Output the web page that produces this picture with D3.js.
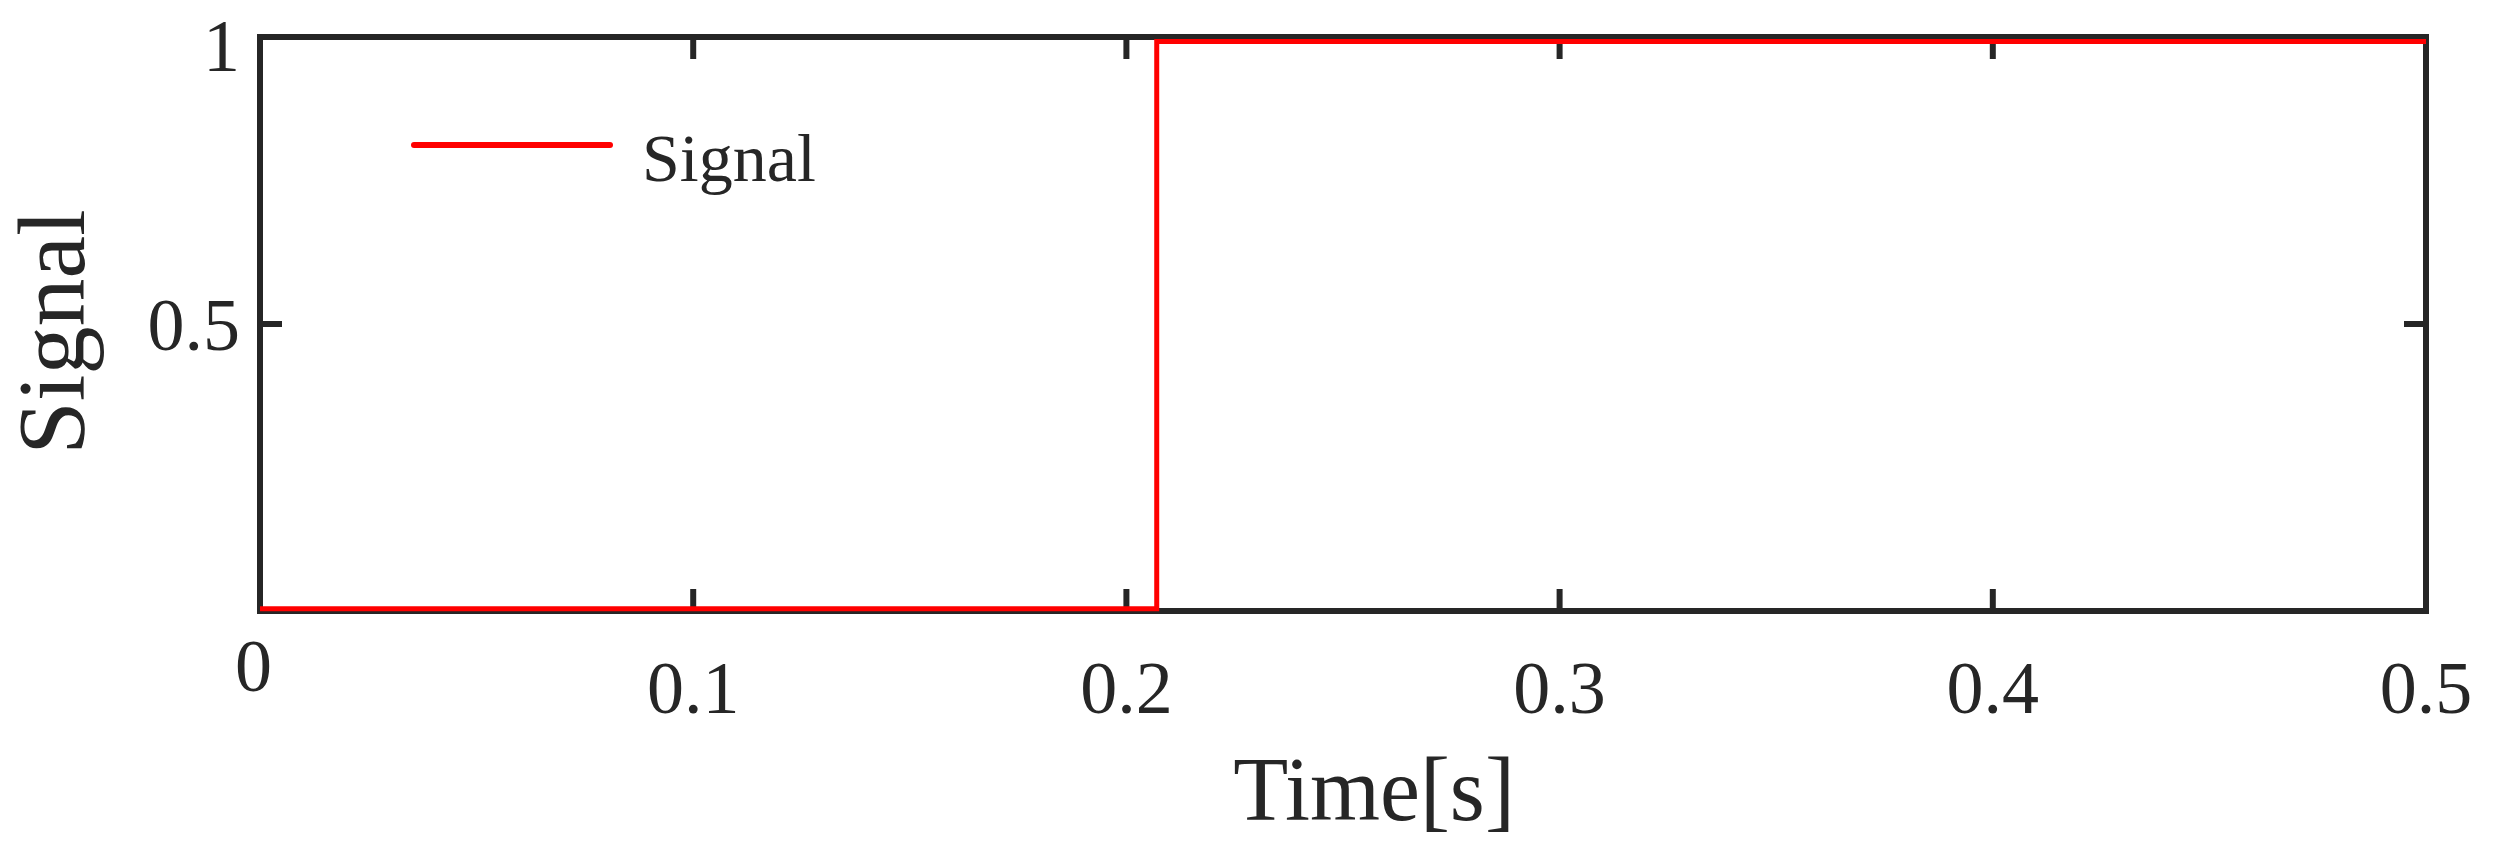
<!DOCTYPE html>
<html>
<head>
<meta charset="utf-8">
<script src="https://cdn.jsdelivr.net/npm/d3@7"></script>
<style>
  body { margin: 0; background: #fff; }
  text { font-family: "Liberation Serif", "Times New Roman", serif; fill: #262626; }
</style>
</head>
<body>
<svg id="chart"></svg>
<script>
// data
const times   = [0, 0.207, 0.207, 0.5];
const signal  = [0, 0, 1, 1];
const xTicks  = [0, 0.1, 0.2, 0.3, 0.4, 0.5];
const yTicks  = [0.5, 1];

const W = 2500, H = 859;
const margin = {top: 37, right: 74, bottom: 248, left: 260};
const width  = W - margin.left - margin.right,
      height = H - margin.top - margin.bottom;
const ink = "#262626";

const svg = d3.select("#chart").attr("width", W).attr("height", H);
const g = svg.append("g").attr("transform", `translate(${margin.left},${margin.top})`);

const x = d3.scaleLinear().domain([0, 0.5]).range([0, width]);
const y = d3.scaleLinear().domain([-0.004, 1.008]).range([height, 0]);
const yA = d3.scaleLinear().domain([0, 1]).range([height, 0]);

// ticks (inward, all four sides)
const tl = 22;
xTicks.forEach(t => {
  g.append("line").attr("x1", x(t)).attr("x2", x(t)).attr("y1", height).attr("y2", height - tl)
    .attr("stroke", ink).attr("stroke-width", 6);
  g.append("line").attr("x1", x(t)).attr("x2", x(t)).attr("y1", 0).attr("y2", tl)
    .attr("stroke", ink).attr("stroke-width", 6);
  g.append("text").attr("x", x(t)).attr("y", t === 0 ? height + 80 : height + 102)
    .attr("text-anchor", t === 0 ? "end" : "middle")
    .attr("dx", t === 0 ? 12 : 0)
    .style("font-size", "74px").text(t);
});
yTicks.forEach(t => {
  g.append("line").attr("x1", 0).attr("x2", tl).attr("y1", yA(t)).attr("y2", yA(t))
    .attr("stroke", ink).attr("stroke-width", 6);
  g.append("line").attr("x1", width).attr("x2", width - tl).attr("y1", yA(t)).attr("y2", yA(t))
    .attr("stroke", ink).attr("stroke-width", 6);
  g.append("text").attr("x", -20).attr("y", yA(t) + (t === 1 ? 34 : 26))
    .attr("text-anchor", "end").style("font-size", "74px").text(t);
});

// frame
g.append("rect").attr("width", width).attr("height", height)
  .attr("fill", "none").attr("stroke", ink).attr("stroke-width", 6);

// signal
const line = d3.line().x((d, i) => x(times[i])).y(d => y(d));
g.append("path").datum(signal).attr("d", line)
  .attr("fill", "none").attr("stroke", "#ff0000").attr("stroke-width", 5);

// legend
g.append("line").attr("x1", 154).attr("x2", 350).attr("y1", 108).attr("y2", 108)
  .attr("stroke", "#ff0000").attr("stroke-width", 6).attr("stroke-linecap", "round");
g.append("text").attr("x", 382).attr("y", 144).style("font-size", "68px").text("Signal");

// axis titles
svg.append("text").attr("transform", `translate(84,332) rotate(-90)`)
  .attr("text-anchor", "middle").style("font-size", "96px").text("Signal");
svg.append("text").attr("x", 1374).attr("y", 820)
  .attr("text-anchor", "middle").style("font-size", "90px").text("Time[s]");
</script>
</body>
</html>
